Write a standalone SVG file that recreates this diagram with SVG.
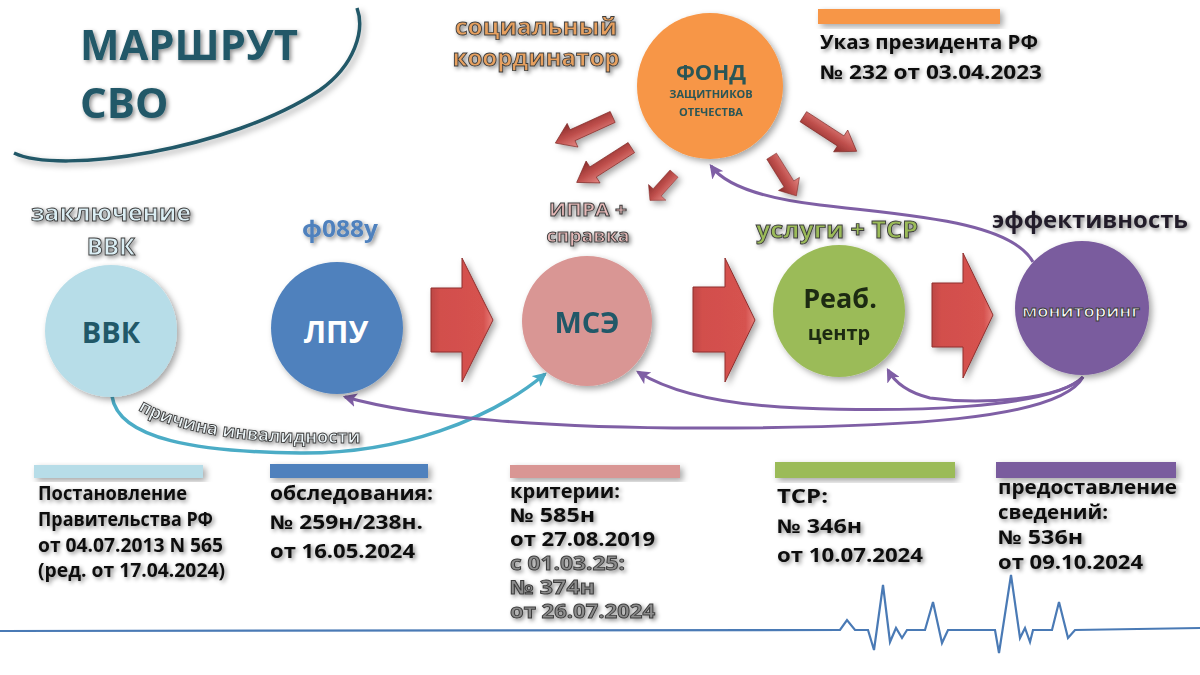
<svg xmlns="http://www.w3.org/2000/svg" width="1200" height="675" viewBox="0 0 1200 675">
<defs>
<style>
.t{font-family:"Open Sans","Noto Sans","DejaVu Sans",sans-serif;font-weight:bold}
.b{font-family:"Open Sans","Noto Sans","DejaVu Sans",sans-serif;font-weight:bold;font-size:19px;fill:#111}
.ol{font-family:"Open Sans","Noto Sans","DejaVu Sans",sans-serif;font-weight:bold;stroke:#3d3d3d;stroke-width:0.9px}
.pl{fill:none;stroke:#7f5fa5;stroke-width:3}
.bar{filter:url(#sh)}
.big{fill:url(#bg);stroke:#8e2f2d;stroke-width:1}
</style>
<filter id="sh" x="-20%" y="-20%" width="150%" height="150%"><feDropShadow dx="3" dy="3" stdDeviation="3" flood-color="#000" flood-opacity="0.35"/></filter>
<filter id="tsh" x="-10%" y="-30%" width="130%" height="180%"><feDropShadow dx="2" dy="2" stdDeviation="2" flood-color="#000" flood-opacity="0.45"/></filter>
<linearGradient id="bg" x1="0" y1="0" x2="1" y2="0"><stop offset="0" stop-color="#bd4744"/><stop offset="0.15" stop-color="#d24f4c"/><stop offset="0.85" stop-color="#d6524f"/><stop offset="1" stop-color="#e8807c"/></linearGradient>
<linearGradient id="sg" x1="0" y1="0" x2="0" y2="1"><stop offset="0" stop-color="#e58a86"/><stop offset="0.5" stop-color="#c0504d"/><stop offset="1" stop-color="#8a2c2a"/></linearGradient>
<polygon id="sa" points="-30,-6 12,-6 12,-13 30,0 12,13 12,6 -30,6" fill="url(#sg)" stroke="#7a2422" stroke-width="0.6"/>
<marker id="mp" viewBox="0 0 12 12" refX="10" refY="6" markerWidth="14" markerHeight="14" markerUnits="userSpaceOnUse" orient="auto"><path d="M0,0 L12,6 L0,12 L3,6 Z" fill="#7f5fa5"/></marker>
<marker id="mt" viewBox="0 0 12 12" refX="10" refY="6" markerWidth="14" markerHeight="14" markerUnits="userSpaceOnUse" orient="auto"><path d="M0,0 L12,6 L0,12 L3,6 Z" fill="#4bacc6"/></marker>
<path id="tp" d="M138,410 C 170,430 230,441 300,443 L 380,443"/>
</defs>
<rect width="1200" height="675" fill="#ffffff"/>

<g id="title">
<path d="M14,153 C 60,175 230,150 320,90 C 355,65 365,30 357,8" fill="none" stroke="#215868" stroke-width="3.5" filter="url(#sh)"/>
<text class="t" x="80" y="60" font-size="42" fill="#215868" filter="url(#tsh)" textLength="218" lengthAdjust="spacingAndGlyphs">МАРШРУТ</text>
<text class="t" x="80" y="118" font-size="42" fill="#215868" filter="url(#tsh)">СВО</text>
</g>

<g id="ecg">
<polyline fill="none" stroke="#4a7ab5" stroke-width="2.2" points="0,631 840,630 847,620 855,630 868,630 874,650 883,585 890,642 896,628 902,638 907,630 925,630 933,602 942,643 948,630 995,630 999,653 1011,575 1020,638 1025,628 1030,642 1033,630 1052,630 1059,602 1068,638 1075,630 1200,628"/>
</g>

<g id="connectors">
<path d="M112,396 C 118,440 200,452 300,453 C 400,454 490,420 545,374" fill="none" stroke="#4bacc6" stroke-width="3.5" marker-end="url(#mt)"/>
<path class="pl" d="M1083,377 C 1060,420 900,428 700,428 C 550,428 420,418 345,397" marker-end="url(#mp)"/>
<path class="pl" d="M1083,377 C 1050,410 900,412 800,408 C 720,405 670,392 638,372" marker-end="url(#mp)"/>
<path class="pl" d="M1083,377 C 1060,400 980,405 930,398 C 910,393 895,383 888,370" marker-end="url(#mp)"/>
<path class="pl" d="M1033,262 C 1010,220 900,215 820,205 C 760,198 725,185 711,166" marker-end="url(#mp)"/>
<text class="ol" font-size="18" fill="#eef7fa" filter="url(#tsh)"><textPath href="#tp">причина инвалидности</textPath></text>
</g>

<g id="big-arrows" filter="url(#sh)">
<polygon class="big" points="431,288 462,288 462,258 493,320 462,382 462,352 431,352"/>
<polygon class="big" points="693,287 725,287 725,258 755,320 725,382 725,352 693,352"/>
<polygon class="big" points="932,283 963,283 963,253 993,315 963,378 963,347 932,347"/>
</g>

<g id="small-arrows" filter="url(#sh)">
<use href="#sa" transform="translate(584,130) rotate(155.5) scale(1.05,1)"/>
<use href="#sa" transform="translate(604,165) rotate(147.5) scale(1.08,1)"/>
<use href="#sa" transform="translate(662,187) rotate(132) scale(0.6,0.9)"/>
<use href="#sa" transform="translate(784,176) rotate(58) scale(0.78,0.95)"/>
<use href="#sa" transform="translate(830,134) rotate(33) scale(1.06,1)"/>
</g>

<g id="fond">
<circle cx="710" cy="86" r="73" fill="#f79646" filter="url(#sh)"/>
<text class="t" x="711" y="80" font-size="22" fill="#2a5656" text-anchor="middle">ФОНД</text>
<text class="t" x="711" y="98" font-size="11" fill="#2a5656" text-anchor="middle">ЗАЩИТНИКОВ</text>
<text class="t" x="711" y="116" font-size="11" fill="#2a5656" text-anchor="middle">ОТЕЧЕСТВА</text>
<text class="ol" x="536" y="35" font-size="24" fill="#e7a05e" text-anchor="middle" filter="url(#tsh)" textLength="162" lengthAdjust="spacingAndGlyphs">социальный</text>
<text class="ol" x="536" y="66" font-size="24" fill="#e7a05e" text-anchor="middle" filter="url(#tsh)" textLength="167" lengthAdjust="spacingAndGlyphs">координатор</text>
<rect class="bar" x="818" y="9" width="182" height="15" fill="#f79646"/>
<text class="b" x="820" y="49" font-size="20" filter="url(#tsh)" textLength="218" lengthAdjust="spacingAndGlyphs">Указ президента РФ</text>
<text class="b" x="820" y="79" font-size="20" filter="url(#tsh)" textLength="222" lengthAdjust="spacingAndGlyphs">№ 232 от 03.04.2023</text>
</g>

<g id="vvk">
<circle cx="111" cy="331" r="66" fill="#b7dde8" filter="url(#sh)"/>
<text class="t" x="111" y="343" font-size="29" fill="#215868" text-anchor="middle">ВВК</text>
<text class="ol" x="111" y="221" font-size="24" fill="#dbeef4" text-anchor="middle" filter="url(#tsh)" textLength="160" lengthAdjust="spacingAndGlyphs">заключение</text>
<text class="ol" x="111" y="255" font-size="24" fill="#dbeef4" text-anchor="middle" filter="url(#tsh)">ВВК</text>
<rect class="bar" x="34" y="465" width="169" height="13" fill="#b7dde8"/>
<g filter="url(#tsh)">
<text class="b" x="38" y="500" textLength="149" lengthAdjust="spacingAndGlyphs">Постановление</text>
<text class="b" x="38" y="526" textLength="175" lengthAdjust="spacingAndGlyphs">Правительства РФ</text>
<text class="b" x="38" y="552" textLength="185" lengthAdjust="spacingAndGlyphs">от 04.07.2013  N 565</text>
<text class="b" x="38" y="577" textLength="187" lengthAdjust="spacingAndGlyphs">(ред. от 17.04.2024)</text>
</g>
</g>

<g id="lpu">
<circle cx="337" cy="328" r="66" fill="#4f81bd" filter="url(#sh)"/>
<text class="t" x="336" y="343" font-size="30" fill="#ffffff" text-anchor="middle">ЛПУ</text>
<text class="t" x="340" y="237" font-size="24" fill="#4f81bd" text-anchor="middle" filter="url(#tsh)" textLength="76" lengthAdjust="spacingAndGlyphs">ф088у</text>
<rect class="bar" x="270" y="464" width="158" height="14" fill="#4f81bd"/>
<g filter="url(#tsh)">
<text class="b" x="270" y="500" font-size="21" textLength="163" lengthAdjust="spacingAndGlyphs">обследования:</text>
<text class="b" x="270" y="529" font-size="21" textLength="153" lengthAdjust="spacingAndGlyphs">№ 259н/238н.</text>
<text class="b" x="270" y="558" font-size="21" textLength="145" lengthAdjust="spacingAndGlyphs">от 16.05.2024</text>
</g>
</g>

<g id="mse">
<circle cx="587" cy="321" r="65" fill="#d99694" filter="url(#sh)"/>
<text class="t" x="587" y="333" font-size="29" fill="#215868" text-anchor="middle">МСЭ</text>
<text class="ol" x="588" y="216" font-size="18" fill="#e6b9b8" text-anchor="middle" filter="url(#tsh)" textLength="78" lengthAdjust="spacingAndGlyphs">ИПРА +</text>
<text class="ol" x="588" y="242" font-size="18" fill="#e6b9b8" text-anchor="middle" filter="url(#tsh)" textLength="83" lengthAdjust="spacingAndGlyphs">справка</text>
<rect class="bar" x="510" y="465" width="170" height="13" fill="#d99694"/>
<g filter="url(#tsh)">
<text class="b" x="510" y="498" textLength="110" lengthAdjust="spacingAndGlyphs">критерии:</text>
<text class="b" x="510" y="522" textLength="85" lengthAdjust="spacingAndGlyphs">№ 585н</text>
<text class="b" x="510" y="546" textLength="145" lengthAdjust="spacingAndGlyphs">от 27.08.2019</text>
<text class="ol" x="510" y="570" font-size="19" fill="#8c8c8c" textLength="115" lengthAdjust="spacingAndGlyphs">с 01.03.25:</text>
<text class="ol" x="510" y="594" font-size="19" fill="#8c8c8c" textLength="85" lengthAdjust="spacingAndGlyphs">№ 374н</text>
<text class="ol" x="510" y="618" font-size="19" fill="#8c8c8c" textLength="145" lengthAdjust="spacingAndGlyphs">от 26.07.2024</text>
</g>
</g>

<g id="reab">
<circle cx="839" cy="311" r="66" fill="#9bbb59" filter="url(#sh)"/>
<text class="t" x="840" y="308" font-size="27" fill="#1d2a12" text-anchor="middle">Реаб.</text>
<text class="t" x="839" y="340" font-size="20" fill="#1d2a12" text-anchor="middle">центр</text>
<text class="ol" x="837" y="238" font-size="24" fill="#9bbb59" text-anchor="middle" filter="url(#tsh)" textLength="162" lengthAdjust="spacingAndGlyphs">услуги + ТСР</text>
<rect class="bar" x="775" y="462" width="180" height="16" fill="#9bbb59"/>
<g filter="url(#tsh)">
<text class="b" x="777" y="503" font-size="21" textLength="51" lengthAdjust="spacingAndGlyphs">ТСР:</text>
<text class="b" x="777" y="533" font-size="21" textLength="85" lengthAdjust="spacingAndGlyphs">№ 346н</text>
<text class="b" x="777" y="562" font-size="21" textLength="146" lengthAdjust="spacingAndGlyphs">от 10.07.2024</text>
</g>
</g>

<g id="monitoring">
<circle cx="1082" cy="308" r="67" fill="#7a5c9e" filter="url(#sh)"/>
<text class="ol" x="1081" y="317" font-size="16" fill="#ffffff" stroke="#2a2a2a" stroke-width="0.8" text-anchor="middle" textLength="118" lengthAdjust="spacingAndGlyphs">мониторинг</text>
<text class="t" x="1090" y="228" font-size="24" fill="#231f2a" text-anchor="middle" filter="url(#tsh)" textLength="196" lengthAdjust="spacingAndGlyphs">эффективность</text>
<rect class="bar" x="996" y="462" width="180" height="16" fill="#7a5c9e"/>
<g filter="url(#tsh)">
<text class="b" x="998" y="494" textLength="179" lengthAdjust="spacingAndGlyphs">предоставление</text>
<text class="b" x="998" y="519" textLength="110" lengthAdjust="spacingAndGlyphs">сведений:</text>
<text class="b" x="998" y="544" textLength="85" lengthAdjust="spacingAndGlyphs">№ 536н</text>
<text class="b" x="998" y="569" textLength="145" lengthAdjust="spacingAndGlyphs">от 09.10.2024</text>
</g>
</g>
</svg>
